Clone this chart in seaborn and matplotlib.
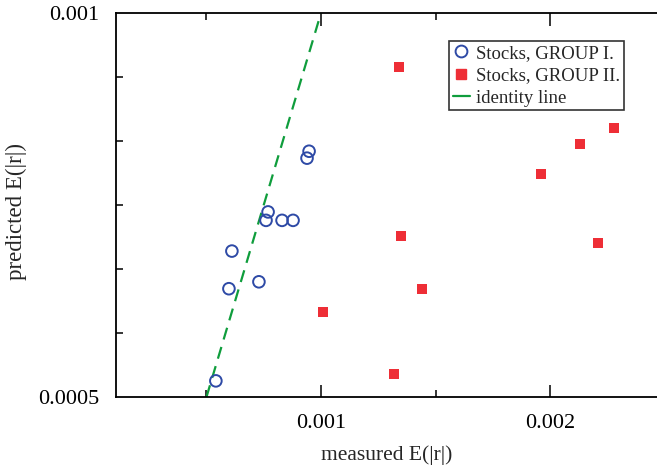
import numpy as np
import pandas as pd
import matplotlib
matplotlib.use("Agg")
import matplotlib.pyplot as plt
from matplotlib.lines import Line2D
from matplotlib.ticker import FixedLocator
import seaborn as sns

# Measured vs predicted E(|r|)
group1_measured = [0.000541, 0.000611, 0.000598, 0.000729, 0.000760, 0.000769,
                   0.000830, 0.000878, 0.000939, 0.000948]
group1_predicted = [0.000521, 0.000690, 0.000641, 0.000650, 0.000730, 0.000741,
                    0.000730, 0.000730, 0.000811, 0.000820]

group2_measured = [0.001341, 0.002280, 0.002131, 0.001961, 0.001349, 0.002210,
                   0.001441, 0.001319, 0.001009]
group2_predicted = [0.000930, 0.000850, 0.000829, 0.000790, 0.000710, 0.000701,
                    0.000641, 0.000530, 0.000611]

identity = [0.0005, 0.001]

group_names = ["Stocks, GROUP I.", "Stocks, GROUP II."]
x_tick_values = [0.001, 0.002]
y_tick_values = [0.0005, 0.001]

df1 = pd.DataFrame({"measured": group1_measured, "predicted": group1_predicted})
df2 = pd.DataFrame({"measured": group2_measured, "predicted": group2_predicted})

sns.set_theme(style="ticks")
plt.rcParams["font.family"] = ["Liberation Serif", "DejaVu Serif"]

blue = "#2e4aa6"
red = "#ee2e36"
green = "#0f9d3c"

fig = plt.figure(figsize=(6.57, 4.66), dpi=100)
ax = fig.add_axes([116 / 657, 69 / 466, 541 / 657, 384 / 466])

sns.lineplot(x=identity, y=identity, ax=ax, color=green, lw=1.6,
             linestyle=(0, (5.5, 3.5)), legend=False)
sns.scatterplot(data=df1, x="measured", y="predicted", ax=ax, marker="o",
                s=70, facecolors="none", edgecolor=blue, linewidth=1.4,
                legend=False, zorder=3)
sns.scatterplot(data=df2, x="measured", y="predicted", ax=ax, marker="s",
                s=52, color=red, edgecolor="none", linewidth=0,
                legend=False, zorder=3)

ax.set_xlim(0.000105, 0.002467)
ax.set_ylim(0.0005, 0.001)

ax.xaxis.set_major_locator(FixedLocator(x_tick_values))
ax.xaxis.set_minor_locator(FixedLocator([0.0005, 0.0015, 0.0025]))
ax.set_xticklabels(["0.001", "0.002"])
ax.yaxis.set_major_locator(FixedLocator(y_tick_values))
ax.yaxis.set_minor_locator(FixedLocator(list(np.linspace(0.0005, 0.001, 7)[1:-1])))
ax.set_yticklabels(["0.0005", "0.001"])

ax.tick_params(which="both", direction="in", top=True, right=False,
               labelsize=16, colors="black", width=1.1)
ax.tick_params(which="major", length=9, pad=12)
ax.tick_params(which="minor", length=5)
ax.tick_params(axis="y", which="major", length=0, pad=12)

for side in ["left", "bottom", "top"]:
    ax.spines[side].set_linewidth(1.3)
    ax.spines[side].set_color("black")
ax.spines["right"].set_visible(False)

ax.set_xlabel("measured E(|r|)", fontsize=15.5, labelpad=9)
ax.set_ylabel("predicted E(|r|)", fontsize=16.5)
ax.yaxis.set_label_coords((27 - 116) / 541, (397 - 211) / 384)

handles = [
    Line2D([], [], marker="o", linestyle="none", markerfacecolor="none",
           markeredgecolor=blue, markeredgewidth=1.4, markersize=8.5),
    Line2D([], [], marker="s", linestyle="none", color=red, markersize=7),
    Line2D([], [], color=green, lw=1.6),
]
leg = ax.legend(handles, group_names + ["identity line"],
                loc="upper left", bbox_to_anchor=((449 - 116) / 541, (397 - 41) / 384),
                frameon=True, fancybox=False, fontsize=13.5, handlelength=0.9,
                handletextpad=0.34, borderpad=0.2, labelspacing=0.28,
                borderaxespad=0)
leg.get_frame().set_edgecolor("black")
leg.get_frame().set_linewidth(1.2)

fig.savefig("out.png", dpi=100)
